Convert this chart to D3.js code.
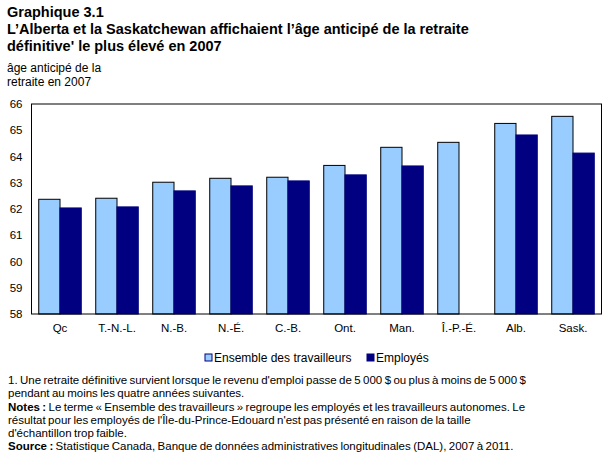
<!DOCTYPE html>
<html>
<head>
<meta charset="utf-8">
<script src="https://cdn.jsdelivr.net/npm/d3@7"></script>
<style>
  body { margin: 0; background: #fff; }
  svg text { font-family: Arial, "Liberation Sans", sans-serif; fill: #000; }
</style>
</head>
<body>
<svg id="chart" width="607" height="456"></svg>
<script>
// data
const provinces = ["Qc", "T.-N.-L.", "N.-B.", "N.-É.", "C.-B.", "Ont.", "Man.", "Î.-P.-É.", "Alb.", "Sask."];
const allWorkers = [62.37, 62.41, 63.02, 63.17, 63.21, 63.66, 64.35, 64.54, 65.26, 65.53];
const employees = [62.04, 62.08, 62.69, 62.88, 63.07, 63.30, 63.64, null, 64.82, 64.13];
const yTicks = [58, 59, 60, 61, 62, 63, 64, 65, 66];
const seriesNames = ["Ensemble des travailleurs", "Employés"];

const svg = d3.select("#chart");
const plotLeft = 31.5, plotRight = 601.5, plotTop = 104, plotBottom = 314;

const x = d3.scaleBand().domain(provinces).range([plotLeft, plotRight]).paddingInner(0).paddingOuter(0);
const xInner = d3.scaleBand().domain([0, 1]).range([0, x.bandwidth()]).paddingInner(0).paddingOuter(0.34);
const y = d3.scaleLinear().domain([58, 66]).range([plotBottom, plotTop]);

// titles
const title = svg.append("g").attr("font-weight", "bold").attr("font-size", 14.5);
title.append("text").attr("x", 7).attr("y", 17).text("Graphique 3.1");
title.append("text").attr("x", 7).attr("y", 34).text("L’Alberta et la Saskatchewan affichaient l’âge anticipé de la retraite");
title.append("text").attr("x", 7).attr("y", 51).text("définitive' le plus élevé en 2007");

svg.append("text").attr("x", 7).attr("y", 72).attr("font-size", 12).text("âge anticipé de la");
svg.append("text").attr("x", 7).attr("y", 86).attr("font-size", 12).text("retraite en 2007");

// bars
const groups = svg.append("g").selectAll("g").data(provinces).join("g")
  .attr("transform", d => `translate(${x(d)},0)`);

groups.append("rect")
  .attr("x", xInner(0))
  .attr("width", xInner.bandwidth())
  .attr("y", (d, i) => y(allWorkers[i]))
  .attr("height", (d, i) => y(58) - y(allWorkers[i]))
  .attr("fill", "#99ccff").attr("stroke", "#000").attr("stroke-width", 1);

groups.filter((d, i) => employees[i] != null).append("rect")
  .attr("x", xInner(1))
  .attr("width", xInner.bandwidth())
  .attr("y", d => y(employees[provinces.indexOf(d)]))
  .attr("height", d => y(58) - y(employees[provinces.indexOf(d)]))
  .attr("fill", "#000080").attr("stroke", "#000080").attr("stroke-width", 1);

// frame
svg.append("rect").attr("x", plotLeft).attr("y", plotTop)
  .attr("width", plotRight - plotLeft).attr("height", plotBottom - plotTop)
  .attr("fill", "none").attr("stroke", "#000").attr("stroke-width", 1);

// y axis
const yAxis = svg.append("g").attr("transform", `translate(${plotLeft},0)`)
  .call(d3.axisLeft(y).tickValues(yTicks).tickSize(0).tickPadding(9));
yAxis.select(".domain").remove();
yAxis.selectAll("text").attr("font-size", 11.5).attr("font-family", null);

// x axis
const xAxis = svg.append("g").attr("transform", `translate(0,${plotBottom})`)
  .call(d3.axisBottom(x).tickSize(0).tickPadding(10));
xAxis.select(".domain").remove();
xAxis.selectAll("text").attr("font-size", 11.5).attr("font-family", null);

// legend
const legend = svg.append("g").attr("font-size", 12);
const legendX = [205, 367];
seriesNames.forEach((name, i) => {
  legend.append("rect").attr("x", legendX[i]).attr("y", 354).attr("width", 7).attr("height", 7)
    .attr("fill", i === 0 ? "#99ccff" : "#000080").attr("stroke", "#000080").attr("stroke-width", 1);
  legend.append("text").attr("x", legendX[i] + 9).attr("y", 362).text(name);
});

// notes
const notes = svg.append("g").attr("font-size", 11.5).attr("word-spacing", -0.8);
const noteLines = [
  { y: 384, parts: [["", "1. Une retraite définitive survient lorsque le revenu d'emploi passe de 5 000 $ ou plus à moins de 5 000 $"]] },
  { y: 397, parts: [["", "pendant au moins les quatre années suivantes."]] },
  { y: 411, parts: [["bold", "Notes :"], ["", " Le terme « Ensemble des travailleurs » regroupe les employés et les travailleurs autonomes. Le"]] },
  { y: 424, parts: [["", "résultat pour les employés de l'Île-du-Prince-Edouard n'est pas présenté en raison de la taille"]] },
  { y: 437, parts: [["", "d'échantillon trop faible."]] },
  { y: 450, parts: [["bold", "Source :"], ["", " Statistique Canada, Banque de données administratives longitudinales (DAL), 2007 à 2011."]] }
];
noteLines.forEach(line => {
  const t = notes.append("text").attr("x", 8).attr("y", line.y);
  line.parts.forEach(p => t.append("tspan").attr("font-weight", p[0] || null).text(p[1]));
});
</script>
</body>
</html>
